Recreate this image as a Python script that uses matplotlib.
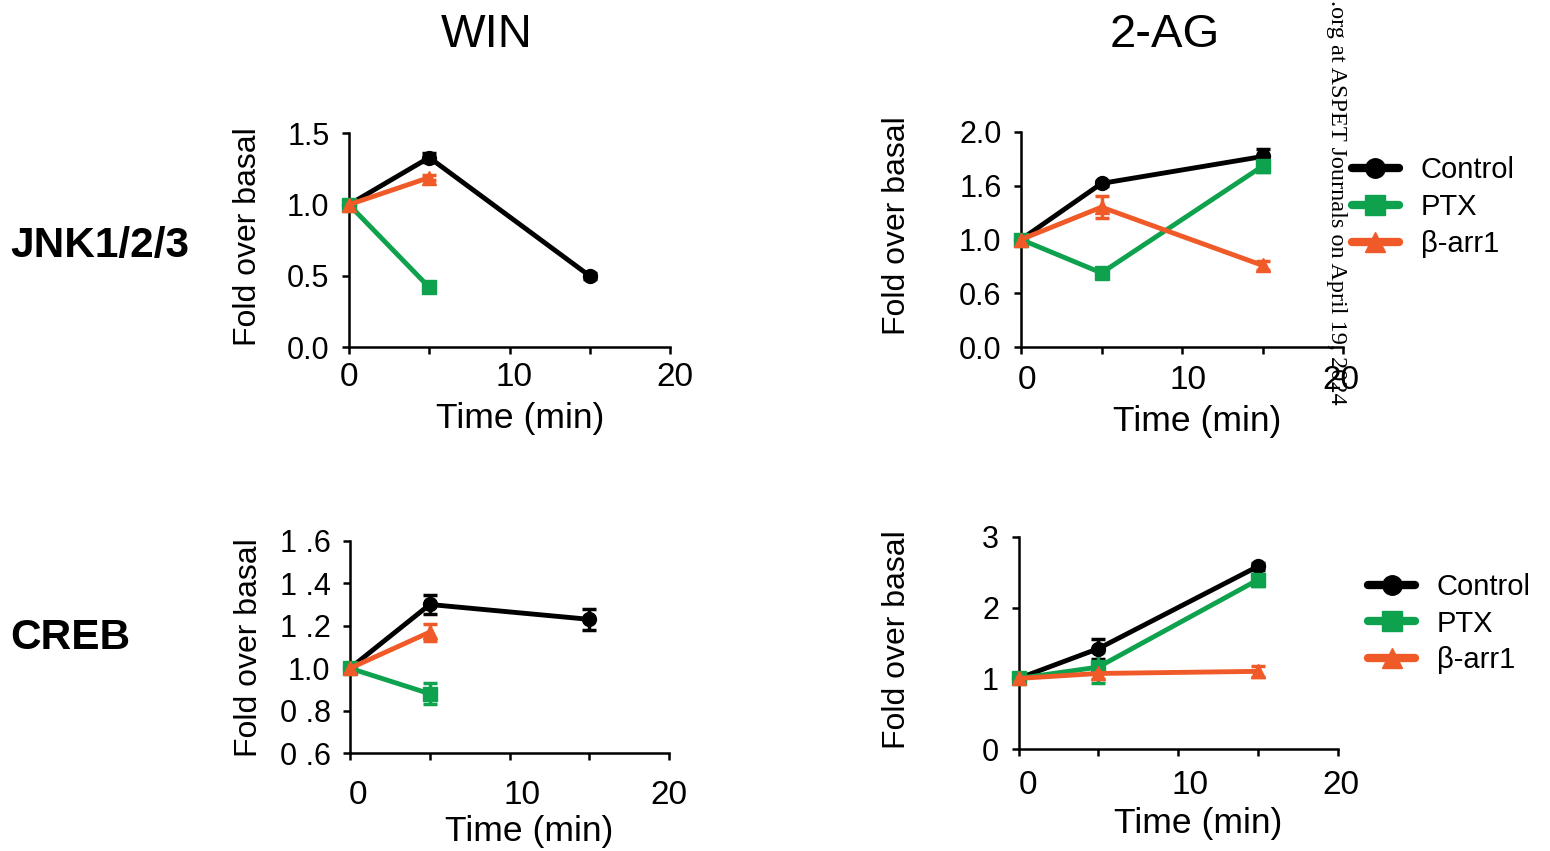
import matplotlib
matplotlib.use("Agg")
import matplotlib.pyplot as plt
from matplotlib.lines import Line2D
from matplotlib.transforms import ScaledTranslation

plt.rcParams['font.family'] = ['Liberation Sans', 'DejaVu Sans']

W, H = 1550, 851

# colours / series names
series = ["Control", "PTX", "β-arr1"]
colors = {"Control": "#000000", "PTX": "#0fa24e", "β-arr1": "#f05a28"}
markers = {"Control": "o", "PTX": "s", "β-arr1": "^"}

# WIN, JNK1/2/3
win_jnk_t = {"Control": [0, 5, 15], "PTX": [0, 5], "β-arr1": [0, 5]}
win_jnk_y = {"Control": [1.0, 1.33, 0.50], "PTX": [1.0, 0.42], "β-arr1": [1.0, 1.19]}
win_jnk_e = {"Control": [0.02, 0.03, 0.02], "PTX": [0.02, 0.02], "β-arr1": [0.02, 0.02]}

# 2-AG, JNK1/2/3 (tick labels as printed in the original)
ag_jnk_t = {"Control": [0, 5, 15], "PTX": [0, 5, 15], "β-arr1": [0, 5, 15]}
ag_jnk_y = {"Control": [1.0, 1.52, 1.77], "PTX": [1.0, 0.69, 1.68], "β-arr1": [1.0, 1.30, 0.76]}
ag_jnk_e = {"Control": [0.02, 0.02, 0.07], "PTX": [0.02, 0.03, 0.05], "β-arr1": [0.02, 0.10, 0.04]}

# WIN, CREB
win_creb_t = {"Control": [0, 5, 15], "PTX": [0, 5], "β-arr1": [0, 5]}
win_creb_y = {"Control": [1.0, 1.30, 1.23], "PTX": [1.0, 0.88], "β-arr1": [1.0, 1.17]}
win_creb_e = {"Control": [0.01, 0.045, 0.05], "PTX": [0.01, 0.05], "β-arr1": [0.01, 0.04]}

# 2-AG, CREB
ag_creb_t = {"Control": [0, 5, 15], "PTX": [0, 5, 15], "β-arr1": [0, 5, 15]}
ag_creb_y = {"Control": [1.0, 1.42, 2.58], "PTX": [1.0, 1.16, 2.39], "β-arr1": [1.0, 1.07, 1.10]}
ag_creb_e = {"Control": [0.03, 0.14, 0.05], "PTX": [0.03, 0.22, 0.08], "β-arr1": [0.03, 0.08, 0.08]}

x_ticks = [0, 10, 20]
x_minor = [5, 15]

# layout per panel, in pixels: axes box (x0, x1, ytop, ybottom), y-label centre,
# x-label centre, x tick pad (pt), x tick label nudges (px), legend anchor
panels = [
    dict(box=(349, 670, 133.3, 347.3), data=(win_jnk_t, win_jnk_y, win_jnk_e),
         ylim=(0, 1.5), yt=[0, 0.5, 1.0, 1.5], ytl=["0.0", "0.5", "1.0", "1.5"],
         ylab=(248, 237), xlab=(520, 418), xpad=5.5, nudge=[0, 4, 5], leg=None),
    dict(box=(1021, 1343, 131.7, 347.3), data=(ag_jnk_t, ag_jnk_y, ag_jnk_e),
         ylim=(0, 2.0), yt=[0, 0.5, 1.0, 1.5, 2.0], ytl=["0.0", "0.6", "1.0", "1.6", "2.0"],
         ylab=(897, 226), xlab=(1197, 421), xpad=8, nudge=[6, 6, -2], leg=(1.028, 0.885)),
    dict(box=(350, 669.3, 540.7, 753.3), data=(win_creb_t, win_creb_y, win_creb_e),
         ylim=(0.6, 1.6), yt=[0.6, 0.8, 1.0, 1.2, 1.4, 1.6],
         ytl=["0 .6", "0 .8", "1.0", "1 .2", "1 .4", "1 .6"],
         ylab=(249, 648), xlab=(529, 831), xpad=14, nudge=[8, 12, 0], leg=None),
    dict(box=(1018.5, 1337.5, 536.7, 749.3), data=(ag_creb_t, ag_creb_y, ag_creb_e),
         ylim=(0, 3), yt=[0, 1, 2, 3], ytl=["0", "1", "2", "3"],
         ylab=(897, 640), xlab=(1198, 823), xpad=10, nudge=[10, 12, 3], leg=(1.097, 0.83)),
]

fig = plt.figure(figsize=(W / 100, H / 100), dpi=100)

for p in panels:
    x0, x1, yt_px, yb_px = p["box"]
    aw, ah = x1 - x0, yb_px - yt_px
    ax = fig.add_axes([x0 / W, 1 - yb_px / H, aw / W, ah / H])
    tt, yy, ee = p["data"]
    for s in series:
        ax.errorbar(tt[s], yy[s], yerr=ee[s], color=colors[s], marker=markers[s],
                    markersize=10, lw=3.5, elinewidth=2.5, capsize=5, capthick=2.5,
                    label=s, clip_on=False, zorder=3)
    ax.set_xlim(0, 20)
    ax.set_ylim(*p["ylim"])
    ax.set_xticks(x_ticks)
    ax.set_xticks(x_minor, minor=True)
    ax.set_yticks(p["yt"])
    ax.set_yticklabels(p["ytl"])
    for side in ["top", "right"]:
        ax.spines[side].set_visible(False)
    for side in ["left", "bottom"]:
        ax.spines[side].set_linewidth(1.8)
    ax.tick_params(which="both", width=1.8, length=5)
    ax.tick_params(axis="y", pad=9, labelsize=22)
    ax.tick_params(axis="x", pad=p["xpad"], labelsize=24)
    for lab, dx in zip(ax.get_xticklabels(), p["nudge"]):
        lab.set_transform(lab.get_transform() + ScaledTranslation(dx / 100, 0, fig.dpi_scale_trans))
    ax.set_xlabel("Time (min)", fontsize=25.5, va="center")
    ax.set_ylabel("Fold over basal", fontsize=23, va="center")
    lx, ly = p["xlab"]
    ax.xaxis.set_label_coords((lx - x0) / aw, (yb_px - ly) / ah)
    lx, ly = p["ylab"]
    ax.yaxis.set_label_coords((lx - x0) / aw, (yb_px - ly) / ah)
    if p["leg"] is not None:
        handles = [Line2D([], [], color=colors[s], marker=markers[s], markersize=14,
                          lw=6, solid_capstyle="round") for s in series]
        ax.legend(handles, series, loc="upper left", bbox_to_anchor=p["leg"], frameon=False,
                  fontsize=21, handlelength=1.6, handletextpad=0.75,
                  labelspacing=0.3, borderpad=0, borderaxespad=0)

fig.text(487 / W, 1 - 35 / H, "WIN", fontsize=34, ha="center", va="center")
fig.text(1165 / W, 1 - 35 / H, "2-AG", fontsize=34, ha="center", va="center")
fig.text(10 / W, 1 - 246 / H, "JNK1/2/3", fontsize=30.5, fontweight="bold",
         ha="left", va="center")
fig.text(10 / W, 1 - 638 / H, "CREB", fontsize=30.5, fontweight="bold",
         ha="left", va="center")

# journal download stamp down the page edge
fig.text(1336 / W, 1.0, ".org at ASPET Journals on April 19, 2024", rotation=-90,
         fontsize=17.5, family="Liberation Serif", ha="center", va="top")

fig.savefig("out.png", dpi=100)
